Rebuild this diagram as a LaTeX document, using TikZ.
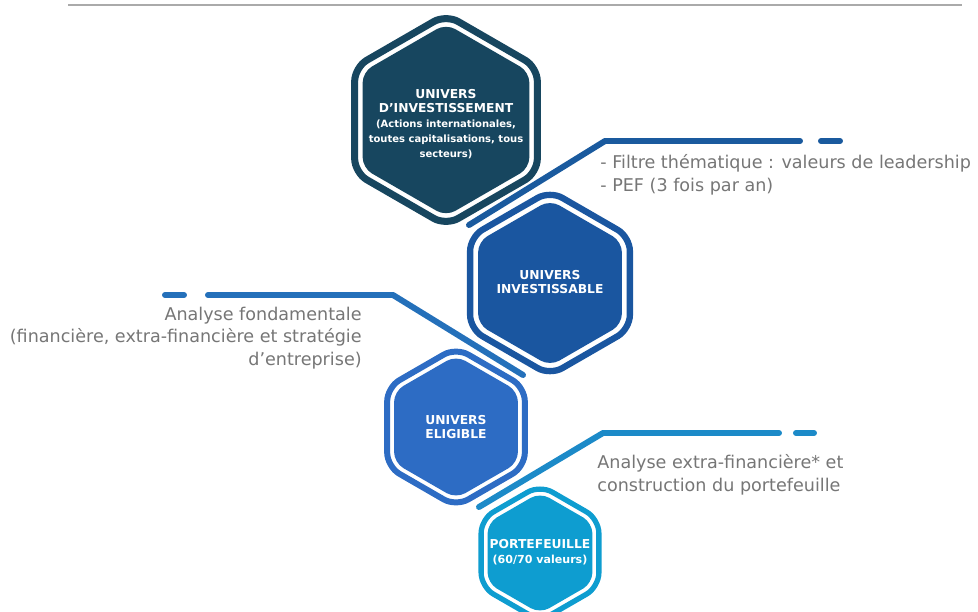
\documentclass[tikz,border=0pt]{standalone}
\usepackage{fontspec}
\setmainfont{DejaVu Sans}
\usetikzlibrary{shapes.geometric}
\definecolor{hexA}{HTML}{17465F}
\definecolor{hexB}{HTML}{1A56A0}
\definecolor{hexC}{HTML}{2D6CC4}
\definecolor{hexD}{HTML}{0E9DD0}
\definecolor{lineA}{HTML}{1A5A9E}
\definecolor{lineB}{HTML}{2470BA}
\definecolor{lineC}{HTML}{1C8AC8}
\definecolor{notegray}{HTML}{767676}
\definecolor{rulegray}{HTML}{AAAAAA}
\newcommand{\subfont}{\fontsize{5.7}{7.7}\selectfont}
\begin{document}
\begin{tikzpicture}
[x=0.02cm,y=-0.02cm,
hexring/.style={regular polygon,regular polygon sides=6,shape border rotate=30,inner sep=0pt,outer sep=0pt,fill=white,rounded corners=8pt},
hexfill/.style={regular polygon,regular polygon sides=6,shape border rotate=30,inner sep=0pt,outer sep=0pt,rounded corners=6pt},
hextext/.style={text=white,align=center,inner sep=0pt,font=\bfseries\fontsize{7}{8.5}\selectfont},
note/.style={text=notegray,inner sep=0pt,font=\fontsize{10}{13}\selectfont},
link/.style={line width=3.4pt,line cap=round,line join=round}]
\useasboundingbox (0,0) rectangle (978,612);
\draw[rulegray,line width=0.9pt] (68,5) -- (962,5);
% hexagons
\node[hexring,draw=hexA,line width=4pt,minimum size=4.22cm] (h1) at (446,120) {};
\node[hexfill,fill=hexA,minimum size=3.85cm] (h1in) at (h1) {};
\node[hexring,draw=hexB,line width=3.6pt,minimum size=3.69cm] (h2) at (550,283) {};
\node[hexfill,fill=hexB,minimum size=3.32cm] (h2in) at (h2) {};
\node[hexring,draw=hexC,line width=3.4pt,minimum size=3.18cm] (h3) at (456,427) {};
\node[hexfill,fill=hexC,minimum size=2.86cm] (h3in) at (h3) {};
\node[hexring,draw=hexD,line width=3pt,minimum size=2.72cm] (h4) at (540,553) {};
\node[hexfill,fill=hexD,minimum size=2.42cm] (h4in) at (h4) {};
\node[hextext] (t1) at (446,124) {UNIVERS\\D’INVESTISSEMENT\\\subfont (Actions internationales,\\\subfont toutes capitalisations, tous\\\subfont secteurs)};
\node[hextext] (t2) at (550,282) {UNIVERS\\INVESTISSABLE};
\node[hextext] (t3) at (456,427) {UNIVERS\\ELIGIBLE};
\node[hextext] (t4) at (540,552) {PORTEFEUILLE\\\fontsize{6.3}{8.5}\selectfont(60/70 valeurs)};
% notes
\node[note,anchor=west,align=left] (n1) at (600,175) {- Filtre thématique : valeurs de leadership\\- PEF (3 fois par an)};
\node[note,anchor=east,align=right] (n2) at (362,338) {Analyse fondamentale\\(financière, extra-financière et stratégie\\d’entreprise)};
\node[note,anchor=west,align=left] (n3) at (597,475) {Analyse extra-financière* et\\construction du portefeuille};
% links
\coordinate (l1a) at (469,225);
\coordinate (l1b) at (605,141);
\coordinate (l1c) at (800,141);
\coordinate (l1d) at (821,141);
\coordinate (l1e) at (840,141);
\coordinate (l2a) at (523,375);
\coordinate (l2b) at (393,295);
\coordinate (l2c) at (208,295);
\coordinate (l2d) at (184,295);
\coordinate (l2e) at (165,295);
\coordinate (l3a) at (479,507);
\coordinate (l3b) at (603,433);
\coordinate (l3c) at (779,433);
\coordinate (l3d) at (796,433);
\coordinate (l3e) at (814,433);
\draw[link,lineA] (l1a) -- (l1b) -- (l1c);
\draw[link,lineA] (l1d) -- (l1e);
\draw[link,lineB] (l2a) -- (l2b) -- (l2c);
\draw[link,lineB] (l2d) -- (l2e);
\draw[link,lineC] (l3a) -- (l3b) -- (l3c);
\draw[link,lineC] (l3d) -- (l3e);
\end{tikzpicture}
\end{document}
